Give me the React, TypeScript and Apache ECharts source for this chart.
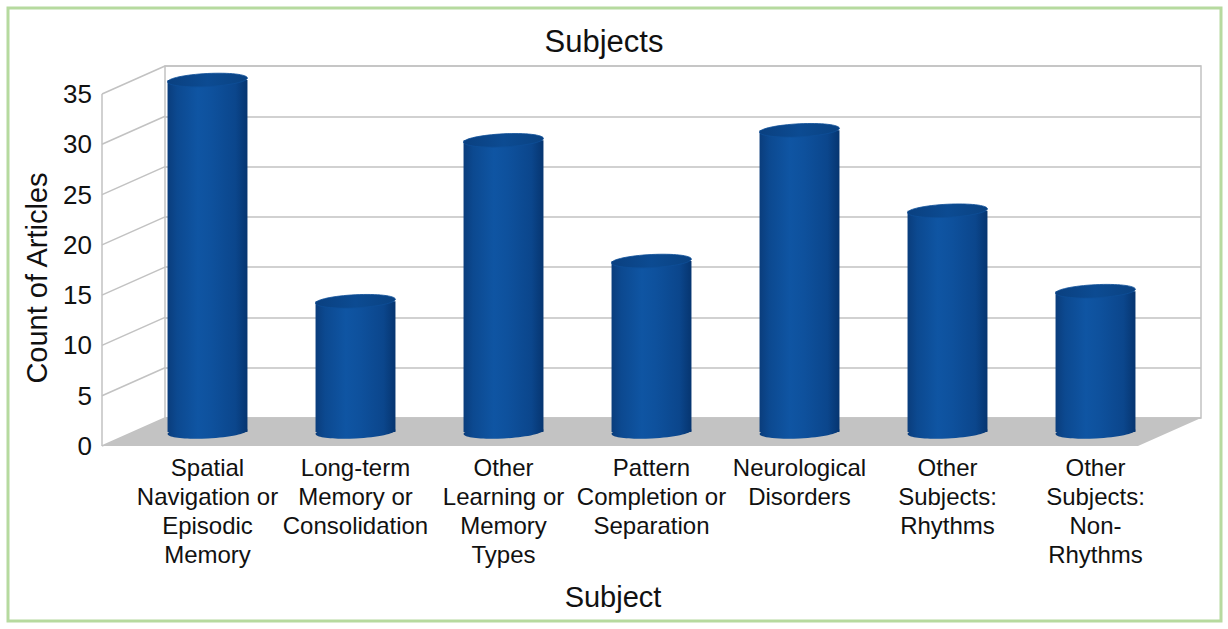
import React, { useEffect, useRef } from "react";
import * as echarts from "echarts";

// ---- data ----
const CATEGORIES = [
  "Spatial\nNavigation or\nEpisodic\nMemory",
  "Long-term\nMemory or\nConsolidation",
  "Other\nLearning or\nMemory\nTypes",
  "Pattern\nCompletion or\nSeparation",
  "Neurological\nDisorders",
  "Other\nSubjects:\nRhythms",
  "Other\nSubjects:\nNon-\nRhythms",
];
const COUNTS = [35, 13, 29, 17, 30, 22, 14];
const Y_MIN = 0;
const Y_MAX = 35;
const Y_STEP = 5;
const TICKS = [0, 5, 10, 15, 20, 25, 30, 35];

const TITLE = "Subjects";
const X_NAME = "Subject";
const Y_NAME = "Count of Articles";

// ---- layout / style ----
const FONT = "'Liberation Sans', Arial, sans-serif";
const FRONT = { left: 102, top: 94, width: 1036, height: 352 };
const DX = 63; // depth offset (front -> back)
const DY = -28;
const GRID_COLOR = "#c2c2c2";
const FLOOR_COLOR = "#c3c3c3";

export default function App() {
  const ref = useRef<HTMLDivElement>(null);

  useEffect(() => {
    if (!ref.current) return;
    const chart = echarts.init(ref.current, undefined, { renderer: "svg" });

    const back = { left: FRONT.left + DX, top: FRONT.top + DY, width: FRONT.width, height: FRONT.height };
    const mid = { left: FRONT.left + DX / 2, top: FRONT.top + DY / 2, width: FRONT.width, height: FRONT.height };

    const yBase = { type: "value", min: Y_MIN, max: Y_MAX, interval: Y_STEP };

    const bodyFill = {
      type: "linear", x: 0, y: 0, x2: 1, y2: 0,
      colorStops: [
        { offset: 0, color: "#0a3d7c" },
        { offset: 0.12, color: "#0c4990" },
        { offset: 0.38, color: "#0f55a3" },
        { offset: 0.55, color: "#0e519d" },
        { offset: 0.85, color: "#0b468c" },
        { offset: 1, color: "#063570" },
      ],
    };
    const capFill = {
      type: "linear", x: 0, y: 0, x2: 1, y2: 0,
      colorStops: [
        { offset: 0, color: "#0a4080" },
        { offset: 0.5, color: "#0c4b92" },
        { offset: 1, color: "#0a4282" },
      ],
    };

    const option: any = {
      animation: false,
      backgroundColor: "#ffffff",
      textStyle: { fontFamily: FONT },
      grid: [
        { ...back, show: true, backgroundColor: "#ffffff", borderColor: GRID_COLOR, borderWidth: 1.5 },
        { ...FRONT },
        { ...mid },
      ],
      xAxis: [
        { type: "category", data: CATEGORIES, gridIndex: 0, show: false },
        { type: "category", data: CATEGORIES, gridIndex: 1, show: false },
        {
          type: "category", data: CATEGORIES, gridIndex: 2,
          axisLine: { show: false }, axisTick: { show: false },
          axisLabel: {
            interval: 0, margin: 21, fontSize: 24, lineHeight: 29,
            color: "#111", fontFamily: FONT, align: "center",
          },
        },
      ],
      yAxis: [
        {
          ...yBase, gridIndex: 0,
          axisLine: { show: false }, axisTick: { show: false }, axisLabel: { show: false },
          splitLine: { show: true, lineStyle: { color: GRID_COLOR, width: 1.5 } },
        },
        {
          ...yBase, gridIndex: 1,
          axisLine: { show: false }, axisTick: { show: false },
          splitLine: { show: false },
          axisLabel: { margin: 10, fontSize: 26, color: "#111", fontFamily: FONT },
        },
        { ...yBase, gridIndex: 2, show: false, splitLine: { show: false } },
      ],
      graphic: [
        {
          type: "rect", z: 100,
          shape: { x: 8, y: 8, width: 1213, height: 613 },
          style: { fill: "none", stroke: "#b6da9f", lineWidth: 3 },
        },
        {
          type: "text", x: 604, y: 41,
          style: { text: TITLE, font: `31px ${FONT}`, fill: "#111", textAlign: "center", textVerticalAlign: "middle" },
        },
        {
          type: "text", x: 613, y: 597,
          style: { text: X_NAME, font: `29px ${FONT}`, fill: "#111", textAlign: "center", textVerticalAlign: "middle" },
        },
        {
          type: "text", x: 37, y: 278, rotation: Math.PI / 2,
          style: { text: Y_NAME, font: `29px ${FONT}`, fill: "#111", textAlign: "center", textVerticalAlign: "middle" },
        },
      ],
      series: [
        // floor + front edge of left wall
        {
          type: "custom", xAxisIndex: 1, yAxisIndex: 1, z: 1, silent: true,
          data: [[0, Y_MIN]],
          renderItem: (params: any, api: any) => {
            const cs = params.coordSys;
            const y0 = api.coord([0, Y_MIN])[1];
            const yTop = api.coord([0, Y_MAX])[1];
            return {
              type: "group",
              children: [
                {
                  type: "line",
                  shape: { x1: cs.x, y1: yTop, x2: cs.x, y2: y0 },
                  style: { stroke: GRID_COLOR, lineWidth: 1.5 },
                },
                {
                  type: "polygon",
                  shape: {
                    points: [
                      [cs.x, y0],
                      [cs.x + cs.width, y0],
                      [cs.x + cs.width + DX, y0 + DY],
                      [cs.x + DX, y0 + DY],
                    ],
                  },
                  style: { fill: FLOOR_COLOR },
                },
              ],
            };
          },
        },
        // left wall grid lines
        {
          type: "custom", xAxisIndex: 1, yAxisIndex: 1, z: 0, silent: true,
          data: TICKS.map((v) => [0, v]),
          renderItem: (params: any, api: any) => {
            const cs = params.coordSys;
            const y = api.coord([0, api.value(1)])[1];
            return {
              type: "line",
              shape: { x1: cs.x, y1: y, x2: cs.x + DX, y2: y + DY },
              style: { stroke: GRID_COLOR, lineWidth: 1.5 },
            };
          },
        },
        // cylinders
        {
          type: "custom", xAxisIndex: 2, yAxisIndex: 2, z: 5, silent: true,
          data: COUNTS.map((v, i) => [i, v]),
          renderItem: (params: any, api: any) => {
            const top = api.coord([api.value(0), api.value(1)]);
            const bot = api.coord([api.value(0), Y_MIN]);
            const w = api.size([1, 0])[0] * 0.54;
            const rx = w / 2;
            const ry = 6.5;
            const rot = 0.05;
            return {
              type: "group",
              children: [
                {
                  type: "ellipse", x: bot[0], y: bot[1], rotation: rot,
                  shape: { cx: 0, cy: 0, rx, ry },
                  style: { fill: bodyFill },
                },
                {
                  type: "rect",
                  shape: { x: top[0] - rx, y: top[1], width: w, height: bot[1] - top[1] },
                  style: { fill: bodyFill },
                },
                {
                  type: "ellipse", x: top[0], y: top[1], rotation: rot,
                  shape: { cx: 0, cy: 0, rx, ry },
                  style: { fill: capFill, stroke: "#0d4f98", lineWidth: 0.8 },
                },
              ],
            };
          },
        },
      ],
    };

    chart.setOption(option);
    return () => chart.dispose();
  }, []);

  return (
    <div
      ref={ref}
      style={{ position: "absolute", left: 0, top: 0, width: 1228, height: 629, background: "#fff" }}
    />
  );
}
